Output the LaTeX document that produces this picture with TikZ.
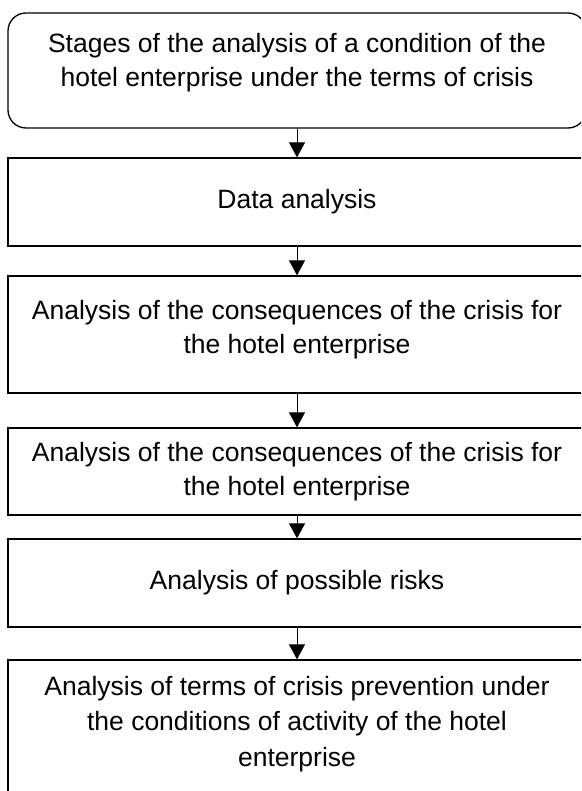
\documentclass[tikz,border=0pt]{standalone}
\usepackage{fontspec}
\setmainfont{Liberation Sans}
\usetikzlibrary{arrows.meta}
\tikzset{
  box/.style={draw, line width=1.3pt, minimum width=578pt, inner sep=0pt},
  lbl/.style={font=\fontsize{26.5}{34}\selectfont, align=center, inner sep=0pt},
  lblwide/.style={font=\fontsize{26.5}{35.5}\selectfont, align=center, inner sep=0pt},
  arr/.style={line width=1pt, -{Triangle[length=15pt,width=16pt]}}
}
\begin{document}
\begin{tikzpicture}[x=1pt,y=-1pt]
\useasboundingbox (0,0) rectangle (581,791);
\clip (0,0) rectangle (581,791);
\fill[white] (0,0) rectangle (581,791);
\node[box, rounded corners=18pt, minimum height=115pt] (b1) at (297,70.5) {};
\node[lbl] (t1) at (297,63) {Stages of the analysis of a condition of the\\hotel enterprise under the terms of crisis};
\node[box, minimum height=88pt] (b2) at (297,202) {};
\node[lbl] (t2) at (297,202) {Data analysis};
\node[box, minimum height=117pt] (b3) at (297,334.5) {};
\node[lbl] (t3) at (297,329.5) {Analysis of the consequences of the crisis for\\the hotel enterprise};
\node[box, minimum height=87pt] (b4) at (297,471.5) {};
\node[lbl] (t4) at (297,472) {Analysis of the consequences of the crisis for\\the hotel enterprise};
\node[box, minimum height=88pt] (b5) at (297,583) {};
\node[lbl] (t5) at (297,583) {Analysis of possible risks};
\node[box, minimum height=180pt] (b6) at (297,750) {};
\node[lblwide] (t6) at (297,724) {Analysis of terms of crisis prevention under\\the conditions of activity of the hotel\\enterprise};
\draw[arr] (b1.south) -- (b2.north);
\draw[arr] (b2.south) -- (b3.north);
\draw[arr] (b3.south) -- (b4.north);
\draw[arr] (b4.south) -- (b5.north);
\draw[arr] (b5.south) -- (b6.north);
\end{tikzpicture}
\end{document}
